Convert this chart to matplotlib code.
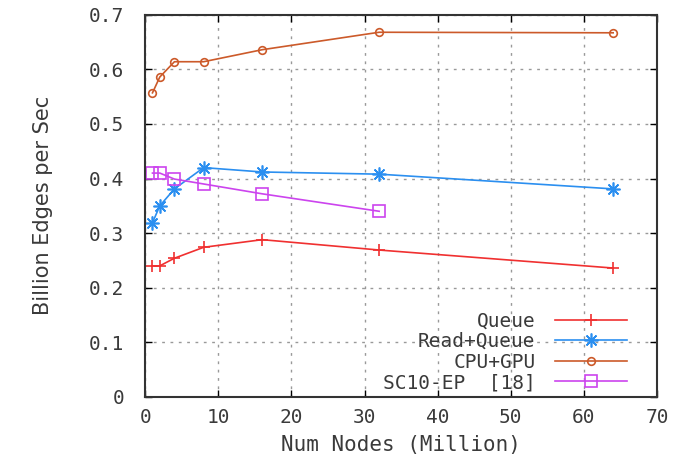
import matplotlib
matplotlib.use("Agg")
import matplotlib.pyplot as plt

# graph sizes in million nodes
nodes = [1, 2, 4, 8, 16, 32, 64]
queue = [0.240, 0.240, 0.254, 0.274, 0.288, 0.269, 0.236]
read_queue = [0.319, 0.350, 0.381, 0.420, 0.412, 0.408, 0.381]
cpu_gpu = [0.557, 0.586, 0.614, 0.614, 0.636, 0.668, 0.667]
sc10_nodes = [1, 2, 4, 8, 16, 32]
sc10_ep = [0.410, 0.410, 0.399, 0.390, 0.372, 0.340]

xticks = [0, 10, 20, 30, 40, 50, 60, 70]
yticks = [0, 0.1, 0.2, 0.3, 0.4, 0.5, 0.6, 0.7]
ytick_labels = ['0', '0.1', '0.2', '0.3', '0.4', '0.5', '0.6', '0.7']

mono = 'DejaVu Sans Mono'
txt = '#3a3a3a'

fig = plt.figure(figsize=(6.88, 4.62), dpi=100)
ax = fig.add_axes([0.211, 0.141, 0.744, 0.827])

ax.plot(nodes, queue, color='#f03030', marker='+', markersize=9, mew=1.2, lw=1.2, label='Queue')
ax.plot(nodes, read_queue, color='#2b8ff0', marker=(8, 2, 0), markersize=10, mew=1.2, lw=1.2, label='Read+Queue')
ax.plot(nodes, cpu_gpu, color='#cc5a2a', marker='o', markersize=5.5, mfc='none', mew=1.2, lw=1.2, label='CPU+GPU')
ax.plot(sc10_nodes, sc10_ep, color='#cc44ee', marker='s', markersize=8, mfc='none', mew=1.2, lw=1.2, label='SC10-EP  [18]')

ax.set_xlim(0, 70)
ax.set_ylim(0, 0.7)
ax.set_xticks(xticks)
ax.set_yticks(yticks)
ax.set_xticklabels([str(t) for t in xticks], family=mono, fontsize=14, color=txt)
ax.set_yticklabels(ytick_labels, family=mono, fontsize=14, color=txt)
ax.tick_params(direction='in', top=True, right=True, length=5, width=1)
ax.tick_params(axis='x', pad=8)
ax.tick_params(axis='y', pad=15)
ax.grid(True, color='#999999', linestyle=(0, (2, 4)), linewidth=1)
for s in ax.spines.values():
    s.set_linewidth(1.5)
    s.set_color('#333333')

ax.set_xlabel('Num Nodes (Million)', family=mono, fontsize=15, color=txt, labelpad=6)
ax.set_ylabel('Billion Edges per Sec', fontsize=15, color=txt, labelpad=26)

leg = ax.legend(loc='lower right', markerfirst=False, frameon=False, prop={'family': mono, 'size': 14},
                handlelength=3.7, handletextpad=1.0, labelspacing=0.08,
                borderpad=0, borderaxespad=0, bbox_to_anchor=(0.941, 0.012))
for t in leg.get_texts():
    t.set_ha('right')
    t.set_color(txt)

fig.savefig('out.png', dpi=100)
